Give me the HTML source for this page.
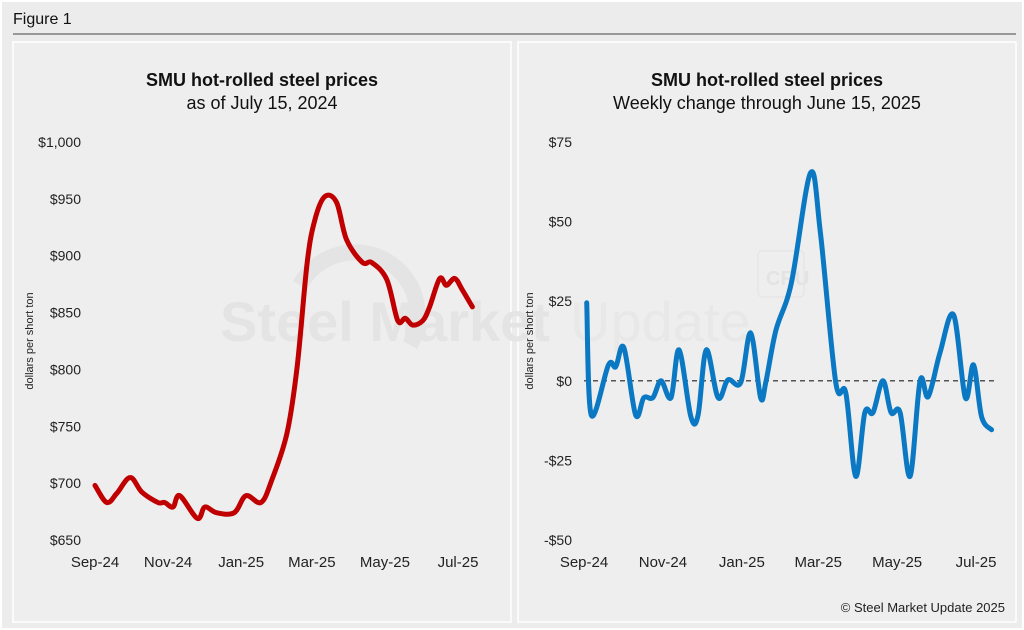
<!DOCTYPE html>
<html><head><meta charset="utf-8"><style>
body{margin:0;width:1024px;height:630px;background:#fff;font-family:"Liberation Sans",Arial,sans-serif;overflow:hidden}
#wrap{position:absolute;left:2px;top:2px;width:1020px;height:626px;background:#ececec}
</style></head><body>
<div id="wrap"></div>
<svg id="svg" width="1024" height="630" style="position:absolute;left:0;top:0">
<text x="13" y="24" font-size="16" fill="#111">Figure 1</text>
<line x1="13" y1="34" x2="1016" y2="34" stroke="#444" stroke-width="1"/>
<rect x="13" y="42" width="498" height="580" fill="#eeeeee" stroke="#fff" stroke-width="1.5"/>
<rect x="518" y="42" width="498" height="580" fill="#eeeeee" stroke="#fff" stroke-width="1.5"/>
<g>
<path d="M 300 285 A 62 62 0 1 1 410 345" fill="none" stroke="#e4e4e4" stroke-width="16"/>
<text x="220" y="341" font-size="56" font-weight="bold" fill="#e4e4e4">Steel Market</text>
<text x="570" y="341" font-size="56" fill="#e8e8e8">Update</text>
<rect x="758" y="251" width="46" height="46" rx="4" fill="none" stroke="#e6e6e6" stroke-width="1.5"/>
<text x="766" y="285" font-size="20" font-weight="bold" fill="#e3e3e3">CRU</text>
</g>
<text x="262" y="86" font-size="18" font-weight="bold" text-anchor="middle" fill="#111">SMU hot-rolled steel prices</text>
<text x="262" y="109" font-size="18" text-anchor="middle" fill="#111">as of July 15, 2024</text>
<text x="767" y="86" font-size="18" font-weight="bold" text-anchor="middle" fill="#111">SMU hot-rolled steel prices</text>
<text x="767" y="109" font-size="18" text-anchor="middle" fill="#111">Weekly change through June 15, 2025</text>
<text x="1005" y="612" font-size="13" text-anchor="end" fill="#222">© Steel Market Update 2025</text>
<g id="left"></g><g id="right"></g>
</svg>
<script>
// Left chart data (weeks since Sep 1 2024, price)
const leftWeeks=[0,1.4,2.6,4.2,5.6,7.5,8.3,9.3,10.1,12.2,13.1,14.5,16.6,18.0,19.8,21.1,22.9,24.1,25.3,26.2,27.4,28.8,30.0,31.9,33.0,34.8,36.1,37.0,37.9,39.1,39.9,41.1,41.9,42.9,43.8,45.0];
const leftPrices=[698,683,691,705,692,683,683,679,689,669,679,674,674,689,683,703,744,802,894,931,952,947,914,894,894,879,843,845,839,843,855,880,874,880,870,855];
const leftTicks=[650,700,750,800,850,900,950,1000];
const leftTickLabels=["$650","$700","$750","$800","$850","$900","$950","$1,000"];
// Right chart data (weeks since Sep 1 2024, weekly change)
const rightWeeks=[0.3,0.8,2.7,3.5,4.4,5.7,6.6,7.6,8.5,9.6,10.5,11.8,12.6,13.5,14.8,15.9,17.3,18.4,19.5,20.1,21.2,22.9,25.0,26.1,27.8,28.9,30.0,31.0,31.9,33.0,33.9,34.9,36.0,37.1,38.0,39.3,40.8,42.1,43.0,43.9,45.0];
const rightChanges=[24.5,-10.7,5,4.4,10.4,-10.7,-5.3,-5.3,0,-5.3,9.7,-11.3,-10.7,9.7,-5.3,0.3,-0.6,15,-5.3,0,16,30.8,65.3,46.5,-0.6,-3.8,-30,-10,-10,0,-10,-10,-30,0,-5,8.8,20.7,-5.3,5,-11.3,-15.4];
const rightTicks=[-50,-25,0,25,50,75];
const rightTickLabels=["-$50","-$25","$0","$25","$50","$75"];
const monthLabels=["Sep-24","Nov-24","Jan-25","Mar-25","May-25","Jul-25"];
const monthDays=[0,61,122,181,242,303];

const NS="http://www.w3.org/2000/svg";
function mk(tag,attrs,parent,txt){const e=document.createElementNS(NS,tag);for(const k in attrs)e.setAttribute(k,attrs[k]);if(txt!==undefined)e.textContent=txt;parent.appendChild(e);return e;}
function smooth(pts){let d="M"+pts[0][0]+","+pts[0][1];for(let i=0;i<pts.length-1;i++){const p0=pts[Math.max(i-1,0)],p1=pts[i],p2=pts[i+1],p3=pts[Math.min(i+2,pts.length-1)];const c1=[p1[0]+(p2[0]-p0[0])/6,p1[1]+(p2[1]-p0[1])/6],c2=[p2[0]-(p3[0]-p1[0])/6,p2[1]-(p3[1]-p1[1])/6];d+=" C"+c1[0].toFixed(1)+","+c1[1].toFixed(1)+" "+c2[0].toFixed(1)+","+c2[1].toFixed(1)+" "+p2[0].toFixed(1)+","+p2[1].toFixed(1);}return d;}

function chart(g,cfg){
  const y=v=>cfg.y0+(v-cfg.vmin)/(cfg.vmax-cfg.vmin)*(cfg.y1-cfg.y0);
  const xd=d=>cfg.x0+d*cfg.pxDay;
  cfg.ticks.forEach((t,i)=>{const e=mk("text",{x:cfg.tickX,y:y(t)+5,"font-size":14,"text-anchor":"end",fill:"#222"},g,cfg.tickLabels[i]);
    
    });
  monthLabels.forEach((m,i)=>{const e=mk("text",{x:xd(monthDays[i]),y:567,"font-size":15,"text-anchor":"middle",fill:"#222"},g,m);
    
    });
  const at=mk("text",{x:0,y:0,"font-size":11,"text-anchor":"middle",fill:"#222",transform:`translate(${cfg.axisX},${(cfg.y0+cfg.y1)/2}) rotate(-90)`},g,"dollars per short ton");
  
  
  if(cfg.zero){const z=mk("line",{x1:cfg.x0,x2:cfg.x0+412,y1:y(0),y2:y(0),stroke:"#222","stroke-dasharray":"5,4","stroke-width":1.2},g);
    
    }
  const pts=cfg.xs.map((w,i)=>[xd(w*7),y(cfg.vs[i])]);
  const p=mk("path",{d:smooth(pts),fill:"none",stroke:cfg.color,"stroke-width":5,"stroke-linejoin":"round","stroke-linecap":"round"},g);
  
  
}
chart(document.getElementById("left"),{xs:leftWeeks,vs:leftPrices,ticks:leftTicks,tickLabels:leftTickLabels,vmin:650,vmax:1000,y0:540,y1:142,x0:95,pxDay:1.198,tickX:81,axisX:33,color:"#c00000",name:"price-line"});
chart(document.getElementById("right"),{xs:rightWeeks,vs:rightChanges,ticks:rightTicks,tickLabels:rightTickLabels,vmin:-50,vmax:75,y0:540,y1:142,x0:584,pxDay:1.294,tickX:572,axisX:533,color:"#0a78c2",name:"weekly-change-line",zero:true});
</script>
</body></html>
